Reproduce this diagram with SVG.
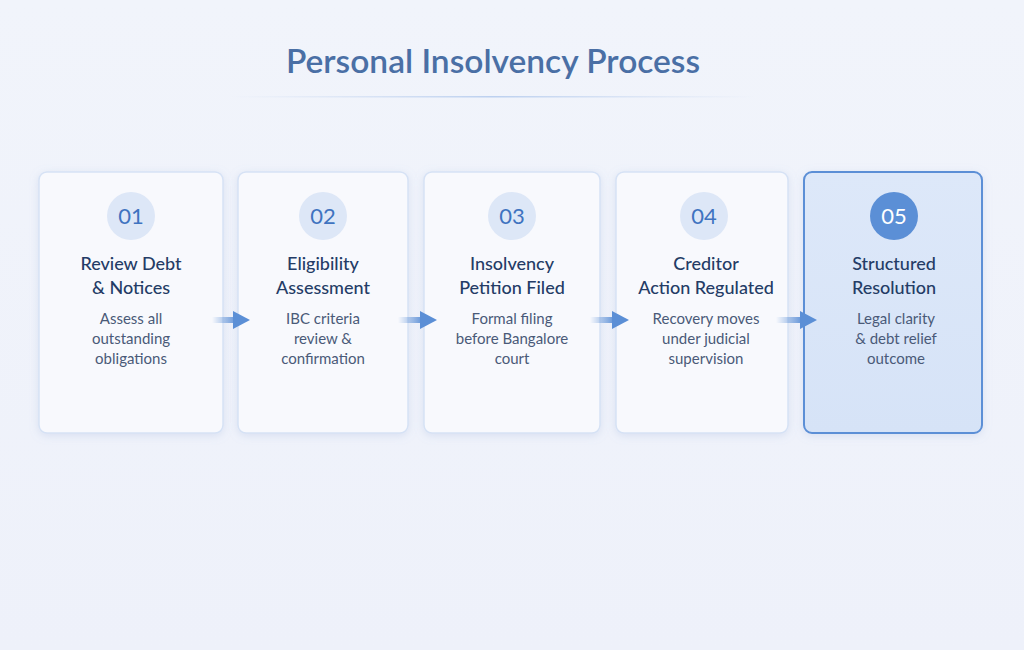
<svg xmlns="http://www.w3.org/2000/svg" width="1024" height="650" viewBox="0 0 1024 650">
<defs>
<linearGradient id="bg" x1="0" y1="0" x2="0" y2="1"><stop offset="0" stop-color="#f1f4fb"/><stop offset="1" stop-color="#eef1fa"/></linearGradient>
<linearGradient id="ln" x1="0" x2="1"><stop offset="0" stop-color="#c9d8f0" stop-opacity="0"/><stop offset="0.5" stop-color="#bcd0ef"/><stop offset="1" stop-color="#c9d8f0" stop-opacity="0"/></linearGradient>
<linearGradient id="ar" x1="0" x2="1"><stop offset="0" stop-color="#5b8fd6" stop-opacity="0"/><stop offset="1" stop-color="#5b8fd6"/></linearGradient>
<linearGradient id="c5" x1="0" y1="0" x2="0" y2="1"><stop offset="0" stop-color="#dde8f9"/><stop offset="1" stop-color="#d6e3f7"/></linearGradient>
<filter id="sh" x="-20%" y="-20%" width="140%" height="140%"><feDropShadow dx="0" dy="2" stdDeviation="4" flood-color="#8fa9d6" flood-opacity="0.25"/></filter>
</defs>
<style>
.card{fill:#f8f9fd;stroke:#d6e2f5;stroke-width:1.5}
.num{fill:#dde7f7}
.nt{font-family:Lato,"Open Sans",sans-serif;font-size:22px;fill:#3f73c0;text-anchor:middle}
.t{font-family:Lato,"Open Sans",sans-serif;font-size:18px;fill:#243c66;text-anchor:middle;font-weight:500}
.b{font-family:Lato,"Open Sans",sans-serif;font-size:15px;fill:#4a5a78;text-anchor:middle}
</style>
<rect width="1024" height="650" fill="url(#bg)"/>
<text x="493" y="73" font-family="Lato,'Open Sans',sans-serif" font-size="33.5" font-weight="600" fill="#4a6fa5" text-anchor="middle">Personal Insolvency Process</text>
<rect x="230" y="96" width="526" height="1.5" fill="url(#ln)"/>
<g id="n1"><rect class="card" filter="url(#sh)" x="39" y="172" width="184" height="261" rx="8"/><circle class="num" cx="131" cy="216" r="24"/><text class="nt" x="131" y="224">01</text><text class="t" x="131" y="270">Review Debt</text><text class="t" x="131" y="294">&amp; Notices</text><text class="b" x="131" y="324">Assess all</text><text class="b" x="131" y="344">outstanding</text><text class="b" x="131" y="364">obligations</text></g>
<g id="n2"><rect class="card" filter="url(#sh)" x="238" y="172" width="170" height="261" rx="8"/><circle class="num" cx="323" cy="216" r="24"/><text class="nt" x="323" y="224">02</text><text class="t" x="323" y="270">Eligibility</text><text class="t" x="323" y="294">Assessment</text><text class="b" x="323" y="324">IBC criteria</text><text class="b" x="323" y="344">review &amp;</text><text class="b" x="323" y="364">confirmation</text></g>
<g id="n3"><rect class="card" filter="url(#sh)" x="424" y="172" width="176" height="261" rx="8"/><circle class="num" cx="512" cy="216" r="24"/><text class="nt" x="512" y="224">03</text><text class="t" x="512" y="270">Insolvency</text><text class="t" x="512" y="294">Petition Filed</text><text class="b" x="512" y="324">Formal filing</text><text class="b" x="512" y="344">before Bangalore</text><text class="b" x="512" y="364">court</text></g>
<g id="n4"><rect class="card" filter="url(#sh)" x="616" y="172" width="172" height="261" rx="8"/><circle class="num" cx="704" cy="216" r="24"/><text class="nt" x="704" y="224">04</text><text class="t" x="706" y="270">Creditor</text><text class="t" x="706" y="294">Action Regulated</text><text class="b" x="706" y="324">Recovery moves</text><text class="b" x="706" y="344">under judicial</text><text class="b" x="706" y="364">supervision</text></g>
<g id="n5"><rect filter="url(#sh)" x="804" y="172" width="178" height="261" rx="8" fill="url(#c5)" stroke="#5b8fd6" stroke-width="2"/><circle cx="894" cy="216" r="24" fill="#5b8fd6"/><text class="nt" x="894" y="224" style="fill:#fff">05</text><text class="t" x="894" y="270">Structured</text><text class="t" x="894" y="294">Resolution</text><text class="b" x="896" y="324">Legal clarity</text><text class="b" x="896" y="344">&amp; debt relief</text><text class="b" x="896" y="364">outcome</text></g>
<g id="connectors">
<rect x="212" y="317" width="26" height="6" fill="url(#ar)"/><polygon points="233,311 250,320 233,329" fill="#5b8fd6"/>
<rect x="398" y="317" width="26" height="6" fill="url(#ar)"/><polygon points="420,311 437,320 420,329" fill="#5b8fd6"/>
<rect x="590" y="317" width="26" height="6" fill="url(#ar)"/><polygon points="612,311 629,320 612,329" fill="#5b8fd6"/>
<rect x="776" y="317" width="28" height="6" fill="url(#ar)"/><polygon points="800,311 817,320 800,329" fill="#5b8fd6"/>
</g>
</svg>
